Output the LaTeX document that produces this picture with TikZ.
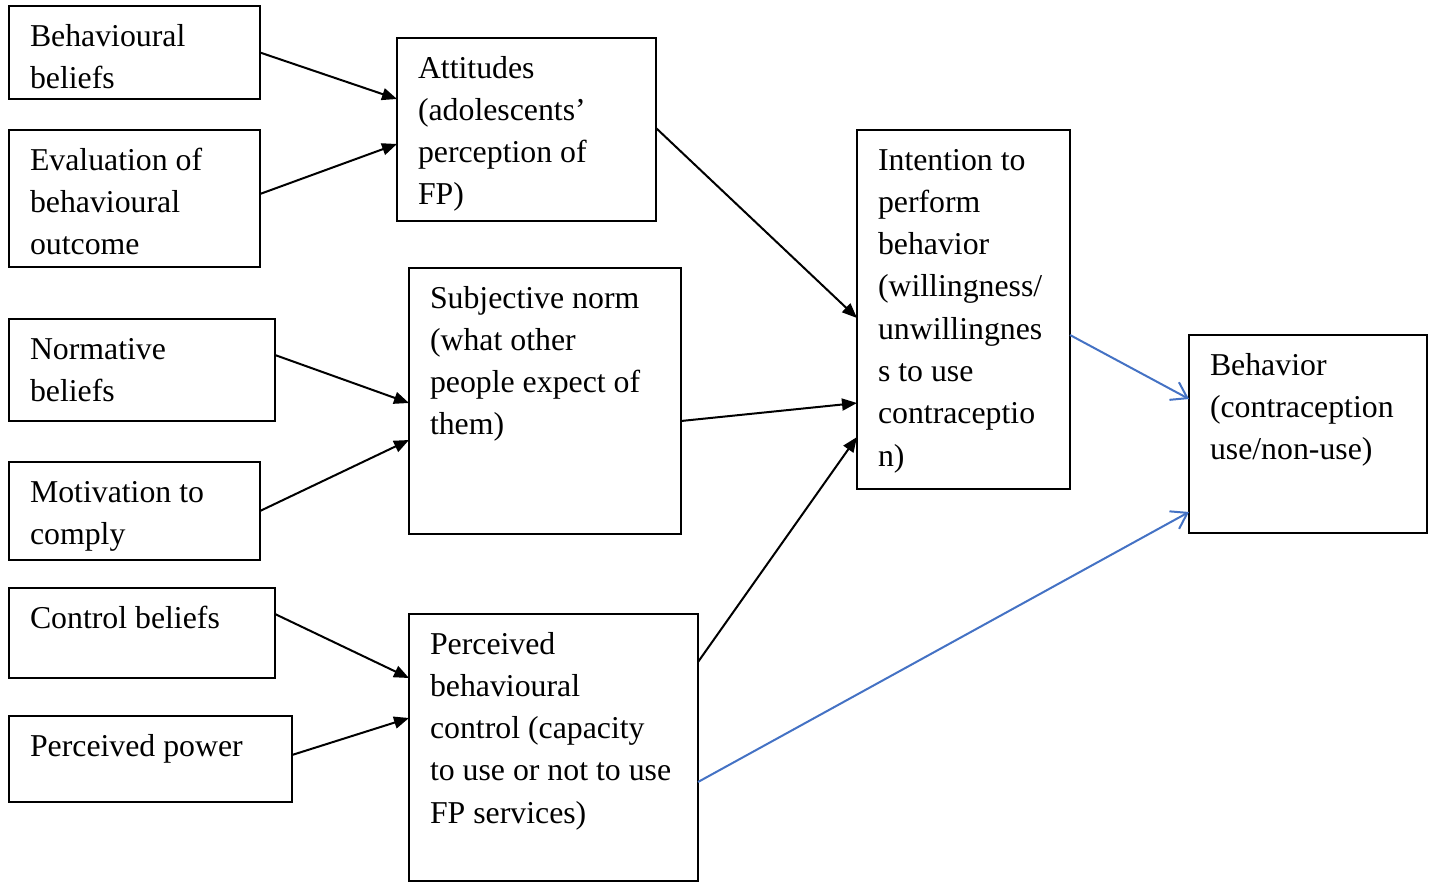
\documentclass[tikz,border=0pt]{standalone}
\usepackage{fontspec}
\setmainfont{Liberation Serif}
\usetikzlibrary{arrows.meta,calc}
\definecolor{arrblue}{RGB}{68,114,196}
\newcommand\boxtext[3]{\parbox[t][\dimexpr#2pt/2-10.4pt\relax][t]{\dimexpr#1pt/2-21pt\relax}{\noindent\begin{tabular}[t]{@{}l@{}}#3\end{tabular}}}
\begin{document}
\begin{tikzpicture}[x=0.5pt,y=-0.5pt,
  box/.style={draw, line width=1pt, outer sep=0pt, inner xsep=10.5pt, inner ysep=5.2pt, anchor=north west, font=\fontsize{15.9pt}{21.15pt}\selectfont},
  arr/.style={line width=1pt, -{Triangle[length=7.5pt,width=6pt]}},
  barr/.style={arrblue, line width=1pt, -{Straight Barb[length=7.5pt,width=10pt,line width=1pt]}}]
\useasboundingbox (0,0) rectangle (1434,882);
\node[box] (bb)  at (9,6)     {\boxtext{251}{93}{Behavioural\\beliefs}};
\node[box] (ev)  at (9,130)   {\boxtext{251}{137}{Evaluation of\\behavioural\\outcome}};
\node[box] (att) at (397,38)  {\boxtext{259}{183}{Attitudes\\(adolescents’\\perception of\\FP)}};
\node[box] (nb)  at (9,319)   {\boxtext{266}{102}{Normative\\beliefs}};
\node[box] (mc)  at (9,462)   {\boxtext{251}{98}{Motivation to\\comply}};
\node[box] (sn)  at (409,268) {\boxtext{272}{266}{Subjective norm\\(what other\\people expect of\\them)}};
\node[box] (cb)  at (9,588)   {\boxtext{266}{90}{Control beliefs}};
\node[box] (pp)  at (9,716)   {\boxtext{283}{86}{Perceived power}};
\node[box] (pbc) at (409,614) {\boxtext{289}{267}{Perceived\\behavioural\\control (capacity\\to use or not to use\\FP services)}};
\node[box] (int) at (857,130) {\boxtext{213}{359}{Intention to\\perform\\behavior\\(willingness/\\unwillingnes\\s to use\\contraceptio\\n)}};
\node[box] (beh) at (1189,335) {\boxtext{238}{198}{Behavior\\(contraception\\use/non-use)}};

\draw[arr] (bb.east) -- ($(att.north west)+(0,61)$);
\draw[arr] ($(ev.north east)+(0,64)$) -- ($(att.north west)+(0,106)$);
\draw[arr] ($(att.north east)+(0,90)$) -- ($(int.north west)+(0,188)$);
\draw[arr] ($(nb.north east)+(0,36)$) -- ($(sn.north west)+(0,135)$);
\draw[arr] (mc.east) -- ($(sn.north west)+(0,172)$);
\draw[arr] ($(sn.north east)+(0,153)$) -- ($(int.north west)+(0,273)$);
\draw[arr] ($(cb.north east)+(0,26)$) -- ($(pbc.north west)+(0,64)$);
\draw[arr] ($(pp.north east)+(0,39)$) -- ($(pbc.north west)+(0,104)$);
\draw[arr] ($(pbc.north east)+(0,48)$) -- ($(int.north west)+(0,307)$);
\draw[barr] ($(int.north east)+(0,205)$) -- ($(beh.north west)+(0,64)$);
\draw[barr] ($(pbc.north east)+(0,168)$) -- ($(beh.north west)+(0,177)$);
\end{tikzpicture}
\end{document}
